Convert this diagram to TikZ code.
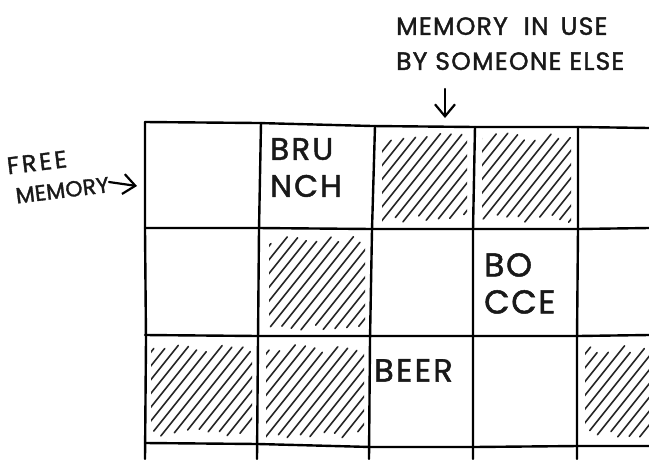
\documentclass[tikz,border=0pt]{standalone}
\usepackage{fontspec}
\setmainfont{Poppins}[FakeBold=1.5]
\usetikzlibrary{arrows.meta}
\tikzset{
  gridline/.style={line width=2.4pt, black, line cap=round, line join=round},
  hatchline/.style={line width=1.6pt, black!85, line cap=round},
  lbl/.style={inner sep=0pt, anchor=north west, align=left, black!90},
  handarrow/.style={line width=2.2pt, black, line cap=round, -{Straight Barb[length=12pt,width=20pt,line width=2.2pt]}}
}
\newcommand\hatchcell[4]{%
  \begin{scope}
    \clip (#1,#2) rectangle (#3,#4);
    \pgfmathsetmacro\hh{#4-#2}
    \pgfmathsetmacro\dd{\hh/1.25}
    \foreach \t in {-90,-79,...,120} {
      \pgfmathsetmacro\sa{1+10*rnd}
      \pgfmathsetmacro\sb{1+10*rnd}
      \draw[hatchline, shorten <=\sa pt, shorten >=\sb pt] ({#1+\t},#4) -- ++(\dd,-\hh);
    }
  \end{scope}}
\begin{document}
\begin{tikzpicture}[x=1pt,y=-1pt]
\pgfmathsetseed{7}
\useasboundingbox[fill=white] (0,0) rectangle (649,459);

% hatched (occupied) cells
\hatchcell{382}{132}{467}{223}
\hatchcell{482}{132}{571}{223}
\hatchcell{269}{235}{365}{331}
\hatchcell{151}{344}{252}{437}
\hatchcell{266}{344}{364}{439}
\hatchcell{585}{344}{649}{439}

% horizontal grid lines
\draw[gridline] (145,122) -- (258,123) -- (372,126) -- (475,127) -- (578,127) -- (649,128);
\draw[gridline] (145,228) -- (258,228) -- (372,229) -- (475,229) -- (578,229) -- (649,228);
\draw[gridline] (145,335) -- (258,336) -- (371,336) -- (474,336) -- (578,336) -- (649,335);
\draw[gridline] (145,443) -- (258,444) -- (371,447) -- (474,447) -- (578,446) -- (649,446);
% vertical grid lines
\draw[gridline] (145,122) -- (145,230) -- (146,340) -- (145,459);
\draw[gridline] (261,123) -- (259,230) -- (258,340) -- (257,459);
\draw[gridline] (375,126) -- (372,230) -- (370,340) -- (369,459);
\draw[gridline] (475,127) -- (473,230) -- (473,340) -- (473,459);
\draw[gridline] (578,127) -- (578,230) -- (577,340) -- (577,459);

% texts in cells
\node[lbl, font=\fontsize{31}{37}\selectfont\addfontfeature{LetterSpace=7}] (bru) at (270,138) {BRU\\NCH};
\node[lbl, font=\fontsize{33}{37}\selectfont\addfontfeature{LetterSpace=5}] (bocce) at (484,253) {BO\\CCE};
\node[lbl, font=\fontsize{32}{37}\selectfont\addfontfeature{LetterSpace=7}] (beer) at (374,359) {BEER};

% labels
\node[lbl, font=\fontsize{25}{35}\selectfont\addfontfeature{LetterSpace=5}] (inuse) at (396,17)
  {MEMORY\hspace{8pt} IN\hspace{4pt} USE\\BY SOMEONE ELSE};
\node[inner sep=0pt, rotate=7, align=left, black!90, font=\fontsize{22}{30}\selectfont] (free) at (58,175)
  {{\fontsize{24}{30}\selectfont\addfontfeature{LetterSpace=12}FREE}\\
   \hspace{5pt}{\addfontfeature{LetterSpace=1}MEMORY}};

\coordinate (dtop) at (445,89);
\coordinate (dbot) at (445,118);
\draw[handarrow] (dtop) -- (dbot);
\coordinate (fstart) at (109,182);
\coordinate (fend) at (137,186);
\draw[handarrow] (fstart) -- (fend);
\end{tikzpicture}
\end{document}
